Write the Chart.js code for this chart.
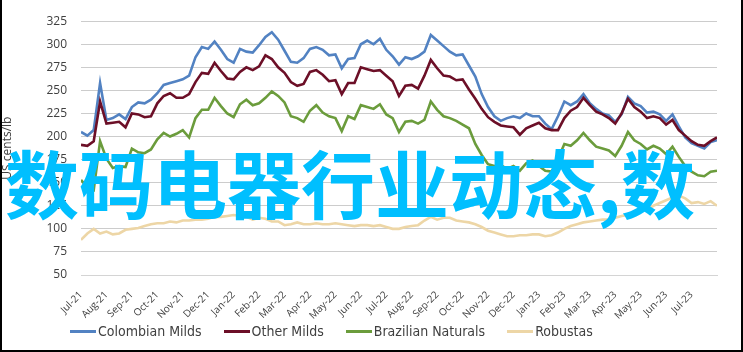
<!DOCTYPE html>
<html>
<head>
<meta charset="utf-8">
<script src="https://cdn.jsdelivr.net/npm/chart.js@4.4.1/dist/chart.umd.min.js"></script>
<style>
  html, body { margin: 0; padding: 0; background: #fff; }
  #frame { position: relative; width: 743px; height: 352px; box-sizing: border-box;
           border-left: 2px solid #000; border-right: 2px solid #000; border-bottom: 2px solid #000; overflow: hidden; }
  #chart { position: absolute; left: -2px; top: 0; }
  #legend { position: absolute; left: 68px; top: 323px; display: flex; gap: 22px;
            font-family: "Liberation Sans Narrow", "DejaVu Sans Condensed", sans-serif; font-size: 14px; color: #404040; }
  #legend .item { display: flex; align-items: center; }
  #legend .sw { width: 26px; height: 3px; margin-right: 2px; }
  #stamp { position: absolute; left: 3px; top: 144px; white-space: nowrap; pointer-events: none;
           font-family: "Noto Sans CJK SC", sans-serif; font-weight: 700; font-size: 74px; line-height: 74px; color: #00bfff; }
</style>
</head>
<body>
<div id="frame">
  <canvas id="chart" width="743" height="352"></canvas>
  <div id="legend"></div>
  <div id="stamp">数码电器行业动态,数</div>
</div>
<script>
// Month labels on the x axis (one tick per month)
const monthLabels = ['Jul-21', 'Aug-21', 'Sep-21', 'Oct-21', 'Nov-21', 'Dec-21', 'Jan-22', 'Feb-22', 'Mar-22', 'Apr-22', 'May-22', 'Jun-22',
  'Jul-22', 'Aug-22', 'Sep-22', 'Oct-22', 'Nov-22', 'Dec-22', 'Jan-23', 'Feb-23', 'Mar-23', 'Apr-23', 'May-23', 'Jun-23', 'Jul-23'];

// Weekly prices, US cents/lb (4 readings per month, Jul-21 .. end Jul-23)
const colombianMilds = [205, 201, 207, 258, 218, 220, 224, 219, 232, 237, 236, 240, 247, 256, 258, 260, 262, 266, 286, 297,
  295, 303, 294, 284, 280, 295, 292, 291, 299, 308, 313, 305, 293, 281, 280, 285, 295, 297, 294, 288,
  289, 274, 284, 285, 300, 304, 300, 306, 294, 287, 278, 286, 284, 287, 292, 310, 304, 298, 292, 288,
  289, 277, 265, 246, 232, 222, 217, 220, 222, 220, 225, 222, 222, 214, 208, 222, 238, 234, 238, 246,
  236, 230, 225, 223, 216, 224, 243, 236, 233, 226, 227, 224, 217, 224, 211, 199, 193, 190, 187, 194, 196];

const otherMilds = [191, 190, 195, 238, 214, 215, 216, 210, 225, 224, 221, 222, 236, 244, 247, 242, 242, 246, 259, 269,
  268, 280, 271, 263, 262, 270, 275, 272, 276, 288, 284, 275, 269, 259, 255, 257, 270, 272, 267, 260,
  261, 246, 258, 258, 275, 273, 271, 272, 266, 260, 244, 255, 256, 252, 266, 283, 274, 266, 265, 261,
  262, 251, 241, 230, 221, 216, 212, 211, 210, 202, 209, 212, 215, 209, 207, 207, 220, 228, 232, 242,
  234, 227, 224, 220, 214, 225, 241, 232, 227, 220, 222, 220, 213, 218, 207, 201, 195, 191, 190, 195, 199];

const brazilianNaturals = [153, 145, 142, 195, 176, 166, 168, 167, 187, 183, 182, 186, 197, 204, 200, 203, 207, 199, 220, 229,
  229, 242, 233, 225, 221, 235, 240, 234, 236, 242, 249, 244, 237, 222, 220, 216, 228, 234, 226, 222,
  220, 206, 222, 219, 234, 232, 230, 235, 224, 220, 205, 216, 217, 214, 218, 238, 229, 222, 220, 217,
  213, 209, 192, 180, 170, 168, 169, 165, 168, 163, 171, 174, 168, 163, 162, 176, 192, 190, 196, 204,
  196, 189, 187, 185, 179, 190, 205, 196, 192, 186, 190, 187, 181, 189, 178, 168, 162, 158, 157, 162, 163];

const robustas = [88, 95, 100, 95, 97, 94, 95, 99, 100, 101, 103, 105, 106, 106, 108, 107, 109, 109, 110, 110,
  111, 113, 113, 114, 115, 114, 113, 110, 112, 111, 108, 108, 104, 105, 107, 105, 105, 106, 105, 105,
  106, 105, 104, 103, 104, 104, 103, 104, 102, 100, 100, 102, 103, 104, 109, 113, 110, 112, 112, 109,
  108, 107, 105, 102, 98, 96, 94, 92, 92, 93, 93, 94, 94, 92, 93, 96, 100, 103, 105, 107,
  108, 109, 110, 110, 112, 114, 115, 117, 119, 121, 125, 128, 131, 134, 136, 133, 128, 129, 127, 130, 125];

const seriesNames = ['Colombian Milds', 'Other Milds', 'Brazilian Naturals', 'Robustas'];
const seriesColors = ['#5282c2', '#6c0f27', '#6b9c3c', '#edd6a6'];
const seriesValues = [colombianMilds, otherMilds, brazilianNaturals, robustas];
const drawOrder = [1, 0, 2, 3];

// weekly readings -> month position on the linear x axis
function toPoints(values) {
  return values.map((v, i) => ({ x: i / 4, y: v }));
}

const tickFont = { family: 'Open Sans', size: 12 };

new Chart(document.getElementById('chart').getContext('2d'), {
  type: 'line',
  data: {
    datasets: seriesValues.map((vals, k) => ({
      label: seriesNames[k],
      data: toPoints(vals),
      borderColor: seriesColors[k],
      borderWidth: 2.6,
      pointRadius: 0,
      tension: 0,
      order: drawOrder[k]
    }))
  },
  options: {
    responsive: false,
    animation: false,
    layout: { padding: { left: 0, right: 26, top: 20, bottom: 27 } },
    plugins: { legend: { display: false }, tooltip: { enabled: false } },
    scales: {
      x: {
        type: 'linear',
        min: 0,
        max: 25,
        afterFit: scale => { scale.height = 50; },
        grid: { display: false },
        border: { display: true, color: '#d4d4d4', width: 1 },
        ticks: {
          stepSize: 1,
          autoSkip: false,
          maxRotation: 45,
          minRotation: 45,
          padding: 6,
          color: '#404040',
          font: { family: 'Open Sans', size: 10 },
          callback: (value) => monthLabels[value] ?? null
        }
      },
      y: {
        min: 50,
        max: 325,
        afterFit: scale => { scale.width = 81; },
        border: { display: false },
        grid: { color: '#cccccc', lineWidth: 1, borderDash: [2, 2], drawTicks: false },
        ticks: { stepSize: 25, padding: 14, color: '#404040', font: tickFont },
        title: { display: true, text: 'US cents/lb', color: '#404040', font: tickFont, padding: { top: 0, bottom: 0 } }
      }
    }
  }
});

// legend below the plot
const legendBox = document.getElementById('legend');
seriesNames.forEach((name, k) => {
  const item = document.createElement('div');
  item.className = 'item';
  item.innerHTML = '<span class="sw" style="background:' + seriesColors[k] + '"></span><span>' + name + '</span>';
  legendBox.appendChild(item);
});
</script>
</body>
</html>
